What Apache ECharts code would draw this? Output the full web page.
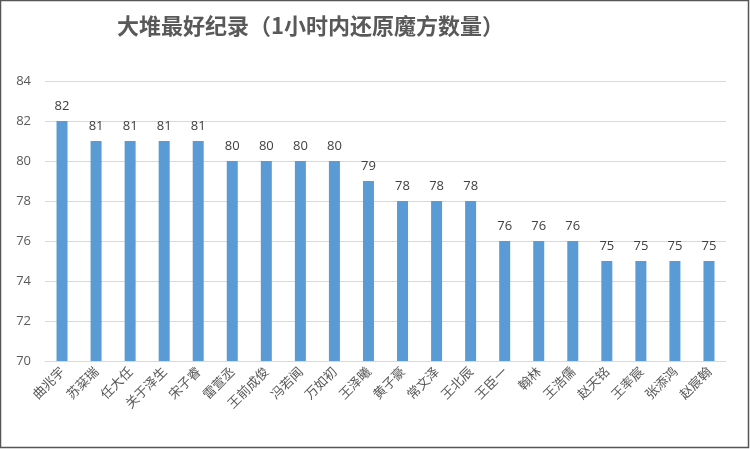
<!DOCTYPE html>
<html lang="zh">
<head>
    <meta charset="UTF-8">
    <title>大堆最好纪录</title>
    <script src="https://cdn.jsdelivr.net/npm/echarts@6/dist/echarts.min.js"></script>
    <style>
        html, body { margin: 0; padding: 0; background: #fff; }
    </style>
</head>
<body>
<div id="bar" style="width: 750px;height: 449px;"></div>
<script>
    // 姓名与成绩
    var names = ['曲兆宇', '苏棻瑞', '任大任', '关于泽生', '宋子睿', '雷萱丞', '王前成俊', '冯若闻', '万如初', '王泽曦',
        '黄子豪', '常文泽', '王北辰', '王臣一', '翰林', '王浩儒', '赵天铭', '王率宸', '张添鸿', '赵宸翰'];
    var scores = [82, 81, 81, 81, 81, 80, 80, 80, 80, 79, 78, 78, 78, 76, 76, 76, 75, 75, 75, 75];
    var yTicks = [70, 72, 74, 76, 78, 80, 82, 84];

    var myChart = echarts.init(document.getElementById('bar'));
    var option = {
        backgroundColor: '#fff',
        animation: false,
        title: {
            text: '大堆最好纪录（1小时内还原魔方数量）',
            left: 112,
            top: 10,
            textStyle: {
                fontSize: 22,
                fontWeight: 'bold',
                color: '#595959',
                fontFamily: 'Noto Sans CJK SC'
            }
        },
        // 外框
        graphic: [{
            type: 'rect',
            shape: { x: 0.5, y: 0.5, width: 748, height: 447 },
            style: { fill: 'none', stroke: '#555', lineWidth: 1.5 },
            silent: true
        }],
        grid: {
            left: 45,
            right: 24,
            top: 81,
            bottom: 88
        },
        xAxis: {
            type: 'category',
            data: names,
            axisLine: { lineStyle: { color: '#d9d9d9' } },
            axisTick: { show: false },
            axisLabel: {
                rotate: 45,
                interval: 0,
                color: '#595959',
                fontSize: 13,
                fontFamily: 'Noto Sans CJK SC',
                margin: 8
            }
        },
        yAxis: {
            type: 'value',
            min: yTicks[0],
            max: yTicks[yTicks.length - 1],
            interval: 2,
            axisLine: { show: false },
            axisTick: { show: false },
            axisLabel: {
                color: '#595959',
                fontSize: 13,
                fontFamily: 'Open Sans',
                margin: 14
            },
            splitLine: { lineStyle: { color: '#d9d9d9' } }
        },
        series: [{
            type: 'bar',
            data: scores,
            barWidth: 11,
            itemStyle: { color: '#5B9BD5' },
            label: {
                show: true,
                position: 'top',
                distance: 8,
                color: '#404040',
                fontSize: 13,
                fontFamily: 'Open Sans'
            }
        }]
    };
    myChart.setOption(option);
</script>
</body>
</html>
